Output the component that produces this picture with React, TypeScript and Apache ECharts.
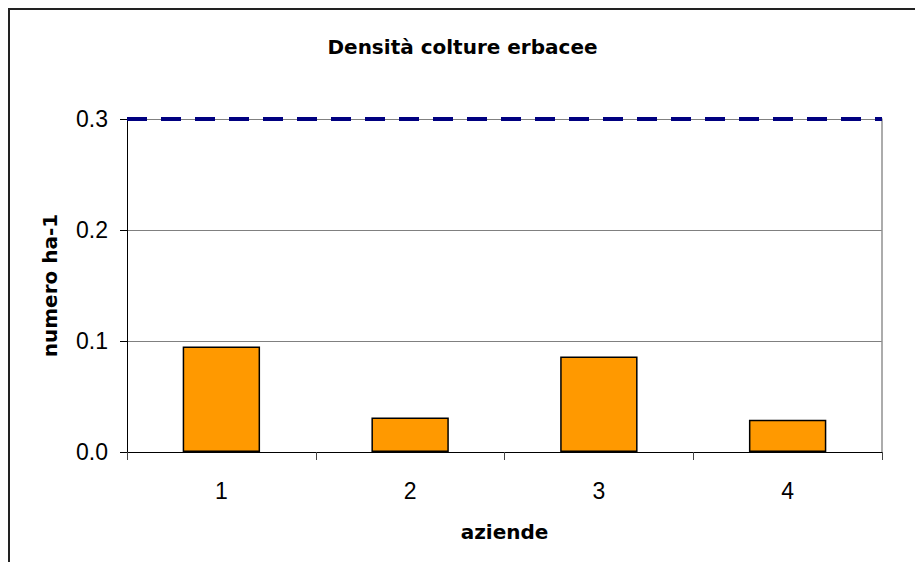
import React, { useEffect, useRef } from "react";
import * as echarts from "echarts";

const categories = ["1", "2", "3", "4"];
const densityValues = [0.095, 0.031, 0.086, 0.029];
const thresholdValues = [0.3];
const yTicks = [0, 0.1, 0.2, 0.3];

export default function App() {
  const ref = useRef<HTMLDivElement>(null);
  useEffect(() => {
    if (!ref.current) return;
    const chart = echarts.init(ref.current, undefined, { renderer: "svg" });
    chart.setOption({
      animation: false,
      backgroundColor: "#ffffff",
      title: {
        text: "Densità colture erbacee",
        left: "center",
        top: 22,
        textStyle: { fontFamily: "DejaVu Sans", fontWeight: "bold", fontSize: 20, color: "#000" },
      },
      grid: { left: 117, right: 33, top: 109, bottom: 110, containLabel: false },
      xAxis: {
        type: "category",
        data: categories,
        name: "aziende",
        nameLocation: "middle",
        nameGap: 70,
        nameTextStyle: { fontFamily: "DejaVu Sans", fontWeight: "bold", fontSize: 20, color: "#000" },
        axisLine: { lineStyle: { color: "#000", width: 1 } },
        axisTick: { show: true, length: 8, lineStyle: { color: "#444" } },
        axisLabel: { fontFamily: "Liberation Sans", fontSize: 23, color: "#000", margin: 27 },
        splitLine: { show: false },
      },
      yAxis: [
        {
          type: "value",
          min: yTicks[0],
          max: yTicks[yTicks.length - 1],
          interval: 0.1,
          name: "numero ha-1",
          nameLocation: "middle",
          nameGap: 67,
          nameTextStyle: { fontFamily: "DejaVu Sans", fontWeight: "bold", fontSize: 20, color: "#000" },
          axisLine: { show: true, lineStyle: { color: "#000", width: 1 } },
          axisTick: { show: true, length: 7, lineStyle: { color: "#000" } },
          axisLabel: {
            fontFamily: "Liberation Sans",
            fontSize: 23,
            color: "#000",
            margin: 19,
            formatter: (v: number) => v.toFixed(1),
          },
          splitLine: { show: true, lineStyle: { color: "#808080", width: 1 } },
        },
        {
          type: "value",
          position: "right",
          min: yTicks[0],
          max: yTicks[yTicks.length - 1],
          interval: 0.1,
          axisLine: { show: true, lineStyle: { color: "#909090", width: 1.5 } },
          axisTick: { show: false },
          axisLabel: { show: false },
          splitLine: { show: false },
        },
      ],
      series: [
        {
          type: "bar",
          data: densityValues,
          barWidth: "41%",
          itemStyle: { color: "#FF9900", borderColor: "#000", borderWidth: 1.5 },
          markLine: {
            silent: true,
            symbol: ["none", "none"],
            label: { show: false },
            lineStyle: { color: "#000080", width: 4, type: [20, 14] },
            data: thresholdValues.map((v) => ({ yAxis: v })),
          },
        },
      ],
    });
    return () => chart.dispose();
  }, []);
  return (
    <div style={{ width: 905, height: 552, borderLeft: "2px solid #222", borderTop: "2px solid #222", overflow: "hidden" }}>
      <div ref={ref} style={{ width: 905, height: 552 }} />
    </div>
  );
}
